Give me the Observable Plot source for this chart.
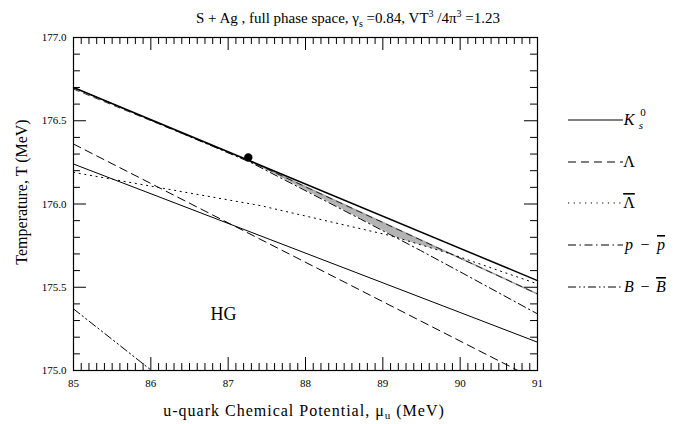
<!DOCTYPE html>
<html><head><meta charset="utf-8">
<script src="https://cdn.jsdelivr.net/npm/d3@7"></script>
<script src="https://cdn.jsdelivr.net/npm/@observablehq/plot@0.6"></script>
<style>
body{margin:0;background:#fff;width:696px;height:424px;overflow:hidden;}
#title{height:28px;line-height:28px;font-family:"Liberation Serif","Times New Roman",Times,"DejaVu Serif",serif;font-size:15px;text-align:center;color:#000;white-space:nowrap;}
svg text{font-family:"Liberation Serif","Times New Roman",Times,"DejaVu Serif",serif;}
</style></head>
<body>
<div id="title">S + Ag , full phase space, γ<sub style="font-size:10px">s</sub> =0.84, VT<sup style="font-size:10px">3</sup> /4π<sup style="font-size:10px">3</sup> =1.23</div>
<div id="chart"></div>
<script>
// ---- data ----
const xTickLabels = [85, 86, 87, 88, 89, 90, 91];
const yTickLabels = [175.0, 175.5, 176.0, 176.5, 177.0];

const muKsUpper = [85, 91];            const tKsUpper = [176.70, 175.54];
const muKsLower = [85, 91];            const tKsLower = [176.24, 175.17];
const muLambda1 = [85, 91];            const tLambda1 = [176.36, 174.94];
const muLambda2 = [85, 87.26, 91];     const tLambda2 = [176.69, 176.262, 175.46];
const muLambdaBar = [85, 87.42, 89.10, 89.88, 91];
const tLambdaBar  = [176.19, 175.99, 175.81, 175.70, 175.52];
const muPPbar = [85, 87.29, 88.71, 89.49, 90.05, 91];
const tPPbar  = [176.70, 176.25, 175.91, 175.72, 175.58, 175.34];
const muBBbar = [85, 86.2];            const tBBbar = [175.37, 174.93];
const muBand  = [87.26, 87.9, 88.6, 89.2, 89.6, 89.9];
const tBandHi = [176.265, 176.127, 175.976, 175.846, 175.760, 175.695];
const tBandLo = [176.265, 176.106, 175.938, 175.793, 175.737, 175.695];
const muPoint = [87.26];               const tPoint = [176.28];
const regionLabel = ["HG"];            const muRegion = [86.94]; const tRegion = [175.34];

const rows = (mu, t) => mu.map((m, i) => ({mu: m, T: t[i]}));
const band = muBand.map((m, i) => ({mu: m, lo: tBandLo[i], hi: tBandHi[i]}));
const greyTop = rows(muLambda2.slice(1), tLambda2.slice(1));

const xMinor = d3.range(85, 91.001, 0.1).filter(v => Math.abs(v - Math.round(v)) > 1e-6);
const yMinor = d3.range(175, 177.001, 0.1).filter(v => Math.abs(v*2 - Math.round(v*2)) > 1e-6);

const XL = 0.168, XS = 0.09, YL = 0.078, YS = 0.042;
const SERIF = '"Liberation Serif","Times New Roman",Times,"DejaVu Serif",serif';

const chart = Plot.plot({
  width: 696, height: 396,
  marginTop: 9, marginLeft: 73, marginRight: 159, marginBottom: 54,
  x: {domain: [85, 91]},
  y: {domain: [175, 177]},
  style: {fontFamily: SERIF, fontSize: "11px", background: "white", color: "black"},
  marks: [
    Plot.areaY(band, {x: "mu", y1: "lo", y2: "hi", fill: "#b4b4b4"}),
    Plot.line(greyTop, {x: "mu", y: "T", stroke: "#a8a8a8", strokeWidth: 1.6}),
    Plot.line(rows(muKsUpper, tKsUpper), {x: "mu", y: "T", stroke: "black", strokeWidth: 1.5}),
    Plot.line(rows(muKsLower, tKsLower), {x: "mu", y: "T", stroke: "black", strokeWidth: 1}),
    Plot.line(rows(muLambda1, tLambda1), {x: "mu", y: "T", stroke: "black", strokeWidth: 1, strokeDasharray: "8,5", clip: true}),
    Plot.line(rows(muLambda2, tLambda2), {x: "mu", y: "T", stroke: "black", strokeWidth: 0.8, strokeDasharray: "6,5"}),
    Plot.line(rows(muLambdaBar, tLambdaBar), {x: "mu", y: "T", stroke: "black", strokeWidth: 1, strokeDasharray: "1.2,4.5"}),
    Plot.line(rows(muPPbar, tPPbar), {x: "mu", y: "T", stroke: "black", strokeWidth: 1, strokeDasharray: "8,3.5,1.5,3.5"}),
    Plot.line(rows(muBBbar, tBBbar), {x: "mu", y: "T", stroke: "black", strokeWidth: 1, strokeDasharray: "8,3,1.5,3,1.5,3", clip: true}),
    Plot.dot(rows(muPoint, tPoint), {x: "mu", y: "T", r: 4.2, fill: "black"}),
    Plot.text(regionLabel, {x: (d, i) => muRegion[i], y: (d, i) => tRegion[i], text: d => d, fontSize: 18, fill: "black"}),
    // inward ticks
    Plot.ruleX(xTickLabels, {x: d => d, y1: 175, y2: 175 + YL, stroke: "black"}),
    Plot.ruleX(xTickLabels, {x: d => d, y1: 177, y2: 177 - YL, stroke: "black"}),
    Plot.ruleX(xMinor, {x: d => d, y1: 175, y2: 175 + YS, stroke: "black"}),
    Plot.ruleX(xMinor, {x: d => d, y1: 177, y2: 177 - YS, stroke: "black"}),
    Plot.ruleY(yTickLabels, {y: d => d, x1: 85, x2: 85 + XL, stroke: "black"}),
    Plot.ruleY(yTickLabels, {y: d => d, x1: 91, x2: 91 - XL, stroke: "black"}),
    Plot.ruleY(yMinor, {y: d => d, x1: 85, x2: 85 + XS, stroke: "black"}),
    Plot.ruleY(yMinor, {y: d => d, x1: 91, x2: 91 - XS, stroke: "black"}),
    Plot.axisX({ticks: xTickLabels, tickSize: 0, tickPadding: 9, tickFormat: "d", label: null}),
    Plot.axisY({ticks: yTickLabels, tickSize: 0, tickPadding: 7, tickFormat: ".1f", label: null}),
    Plot.frame({stroke: "black", strokeWidth: 1.2})
  ]
});
document.getElementById("chart").appendChild(chart);

// axis titles and legend
const svg = d3.select(chart);
const xl = svg.append("text").attr("x", 304).attr("y", 388).attr("text-anchor", "middle")
  .style("font-family", SERIF).attr("font-size", 16).attr("letter-spacing", "1px").attr("fill", "black");
xl.append("tspan").text("u-quark Chemical Potential, μ");
xl.append("tspan").attr("font-size", 11).attr("dy", 3).text("u");
xl.append("tspan").attr("dy", -3).text(" (MeV)");
svg.append("text").attr("transform", "translate(27,164) rotate(-90)").attr("text-anchor", "middle")
  .style("font-family", SERIF).attr("font-size", 16).attr("fill", "black").text("Temperature, T (MeV)");

const legendY = [92, 134, 175, 217, 259];
const legendDash = [null, "8,5", "1.2,4.5", "8,3.5,1.5,3.5", "8,3,1.5,3,1.5,3"];
const lg = svg.append("g");
legendY.forEach((y, i) => {
  const l = lg.append("line").attr("x1", 568).attr("x2", 623).attr("y1", y).attr("y2", y)
    .attr("stroke", "black").attr("stroke-width", 1);
  if (legendDash[i]) l.attr("stroke-dasharray", legendDash[i]);
});
const t = (x, y, s, opts = {}) => lg.append("text").attr("x", x).attr("y", y)
  .style("font-family", SERIF).attr("font-size", opts.size || 16).attr("font-style", opts.italic ? "italic" : "normal")
  .attr("fill", "black").text(s);
t(629, 97, "K", {italic: true});
t(641, 101, "s", {italic: true, size: 11});
t(643, 88, "0", {size: 11});
t(629, 139, "Λ");
t(629, 180, "Λ").style("text-decoration", "overline");
t(629, 222, "p", {italic: true}); t(645, 222, "−"); t(661, 222, "p", {italic: true}).style("text-decoration", "overline");
t(629, 264, "B", {italic: true}); t(645, 264, "−"); t(661, 264, "B", {italic: true}).style("text-decoration", "overline");
</script>
</body></html>
